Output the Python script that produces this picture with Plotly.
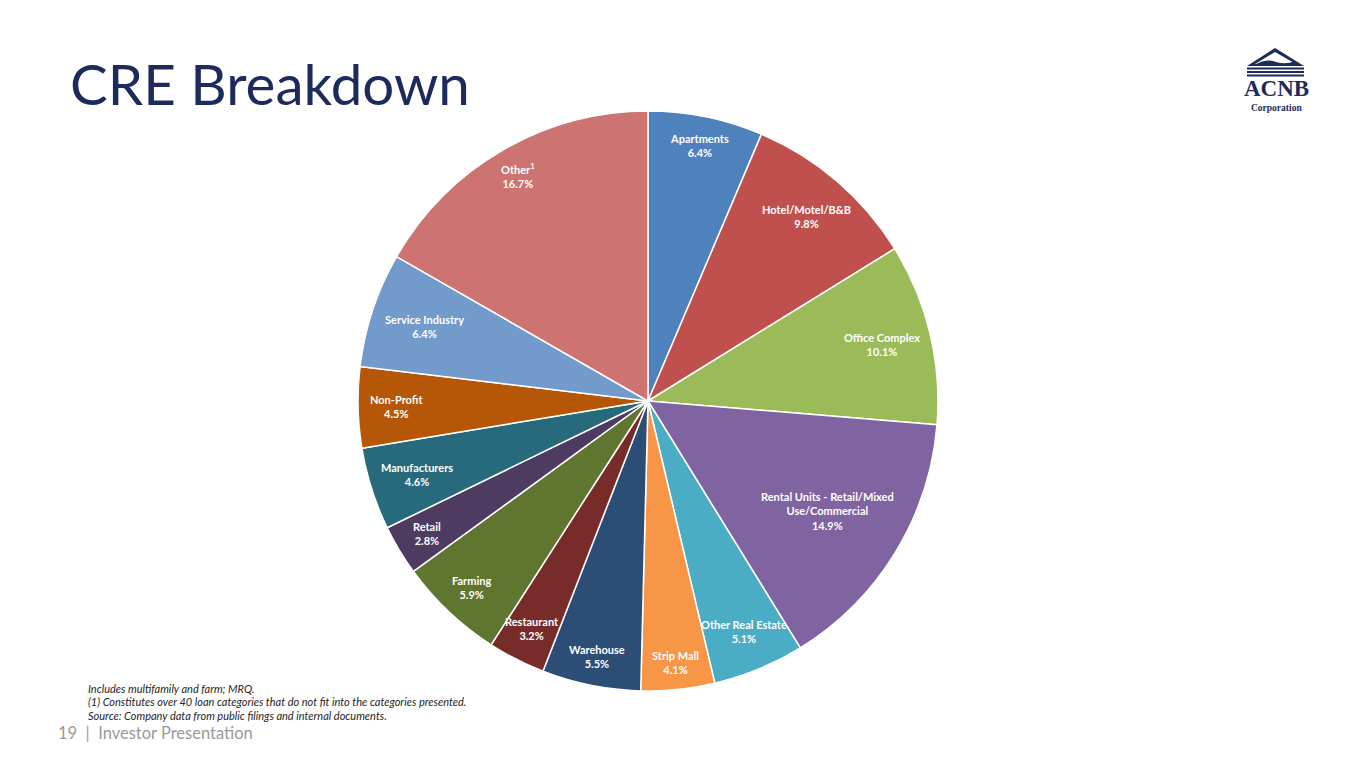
import math
import plotly.graph_objects as go

categories = ["Apartments", "Hotel/Motel/B&B", "Office Complex",
              "Rental Units - Retail/Mixed<br>Use/Commercial", "Other Real Estate",
              "Strip Mall", "Warehouse", "Restaurant", "Farming", "Retail",
              "Manufacturers", "Non-Profit", "Service Industry", "Other<sup>1</sup>"]
values = [6.4, 9.8, 10.1, 14.9, 5.1, 4.1, 5.5, 3.2, 5.9, 2.8, 4.6, 4.5, 6.4, 16.7]
colors = ["#4F81BD", "#C0504D", "#9BBB59", "#8064A2", "#4BACC6", "#F79646",
          "#2C4D75", "#772C2A", "#5F7530", "#4D3B62", "#276A7C", "#B65708",
          "#729ACA", "#CD7371"]
footnotes = ["Includes multifamily and farm; MRQ.",
             "(1) Constitutes over 40 loan categories that do not fit into the categories presented.",
             "Source: Company data from public filings and internal documents."]

OFF = 8                      # page body margin
W, H = 1365 - 2 * OFF, 768 - 2 * OFF
CX, CY, R = 648, 401, 290    # target page pixels


def px2x(x):
    return (x - OFF) / W


def py2y(y):
    return 1 - (y - OFF) / H


dom_x = [px2x(CX - R), px2x(CX + R)]
dom_y = [py2y(CY + R), py2y(CY - R)]

fig = go.Figure(go.Pie(
    labels=categories, values=values, sort=False, direction="clockwise",
    rotation=0, marker=dict(colors=colors, line=dict(color="white", width=1.5)),
    textinfo="none", hoverinfo="label+percent", showlegend=False,
    domain=dict(x=dom_x, y=dom_y)))

annotations = []
total = sum(values)
cum = 0.0
for lab, v in zip(categories, values):
    mid = (cum + v / 2) / total
    cum += v
    th = 2 * math.pi * mid
    ux, uy = math.sin(th), -math.cos(th)
    lines = lab.replace("<sup>1</sup>", "").split("<br>")
    w = max(len(s) for s in lines) * 5.0
    h = (len(lines) + 1) * 12
    r = R - 13 - (abs(ux) * w / 2 + abs(uy) * h / 2)
    annotations.append(dict(
        x=px2x(CX + r * ux), y=py2y(CY + r * uy), xref="paper", yref="paper",
        showarrow=False, text=f"<b>{lab}<br>{v:.1f}%</b>", align="center",
        xanchor="center", yanchor="middle",
        font=dict(family="Lato", size=11, color="white")))

annotations.append(dict(x=px2x(68), y=py2y(83), xref="paper", yref="paper",
                        showarrow=False, text="CRE Breakdown", xanchor="left",
                        yanchor="middle",
                        font=dict(family="Lato", size=56.5, color="#1C2A5C")))
for i, t in enumerate(footnotes):
    annotations.append(dict(x=px2x(86), y=py2y(688 + i * 13.5), xref="paper",
                            yref="paper", showarrow=False, text=f"<i>{t}</i>",
                            xanchor="left", yanchor="middle",
                            font=dict(family="Lato", size=11, color="#262626")))
annotations.append(dict(x=px2x(56), y=py2y(733), xref="paper", yref="paper",
                        showarrow=False, text="19  |  Investor Presentation",
                        xanchor="left", yanchor="middle",
                        font=dict(family="Lato", size=16.5, color="#9A9A9A")))
# logo text
annotations.append(dict(x=px2x(1276), y=py2y(102), xref="paper", yref="paper",
                        showarrow=False, text="<b>ACNB</b>", xanchor="center",
                        yanchor="bottom", borderpad=0,
                        font=dict(family="Liberation Serif", size=23, color="#1C2A5C")))
annotations.append(dict(x=px2x(1276), y=py2y(101.5), xref="paper", yref="paper",
                        showarrow=False, text="<b>Corporation</b>", xanchor="center",
                        yanchor="top", borderpad=0,
                        font=dict(family="Liberation Serif", size=9.5, color="#1C2A5C")))


def P(x, y):
    return f"{px2x(x)},{py2y(y)}"


NAVY = "#1C2A5C"
shapes = [
    dict(type="path", xref="paper", yref="paper",
         path=f"M {P(1247, 66)} L {P(1275, 48)} L {P(1304, 66)} Z",
         fillcolor=NAVY, line=dict(width=0)),
    dict(type="path", xref="paper", yref="paper",
         path=f"M {P(1255, 64)} L {P(1275, 52)} L {P(1296, 64)} Z",
         fillcolor="white", line=dict(width=0)),
    dict(type="path", xref="paper", yref="paper",
         path=f"M {P(1256, 64)} Q {P(1266, 58)} {P(1276, 62)} Q {P(1286, 65)} {P(1295, 61)} L {P(1296, 64)} Z",
         fillcolor=NAVY, line=dict(width=0)),
]
for yy in (67.5, 71, 74.5):
    shapes.append(dict(type="rect", xref="paper", yref="paper",
                       x0=px2x(1247), x1=px2x(1304), y0=py2y(yy + 2), y1=py2y(yy),
                       fillcolor=NAVY, line=dict(width=0)))

fig.update_layout(width=W, height=H, margin=dict(l=0, r=0, t=0, b=0),
                  paper_bgcolor="white", plot_bgcolor="white",
                  annotations=annotations, shapes=shapes)
fig.write_html("out.html")
